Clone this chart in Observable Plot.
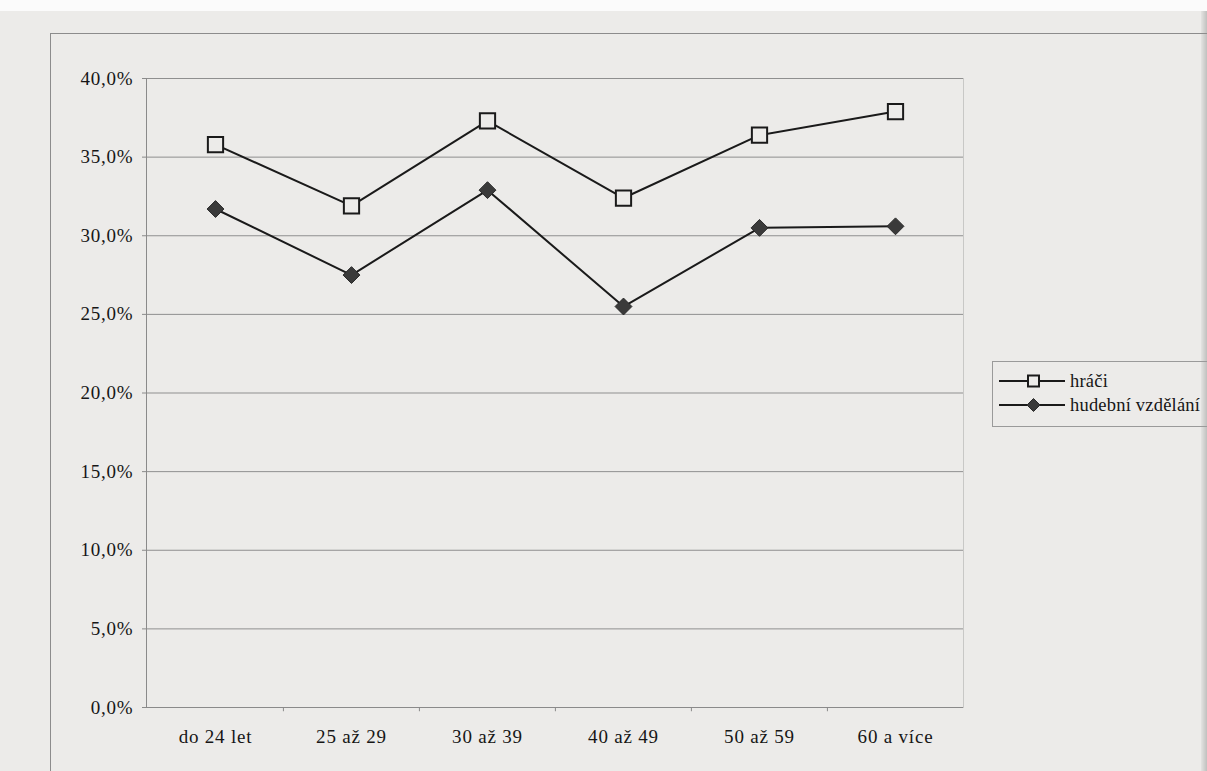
<!DOCTYPE html>
<html>
<head>
<meta charset="utf-8">
<script src="https://cdn.jsdelivr.net/npm/d3@7"></script>
<script src="https://cdn.jsdelivr.net/npm/@observablehq/plot@0.6"></script>
<style>
  html, body { margin: 0; padding: 0; }
  body { width: 1207px; height: 771px; overflow: hidden; background: #ecebe9; position: relative; font-family: "Liberation Serif", "Times New Roman", serif; }
  #topstrip { position: absolute; left: 0; top: 0; width: 1207px; height: 11px; background: #fbfbfb; }
  #frame { position: absolute; left: 50px; top: 33px; width: 1200px; height: 800px; border-left: 1px solid #8c8c8c; border-top: 1px solid #8c8c8c; }
  #edge { position: absolute; left: 1201px; top: 11px; width: 6px; height: 760px; background: linear-gradient(to right, #e4e4e2, #c0c0be); }
  #chart { position: absolute; left: 0; top: 0; }
  #legend { position: absolute; left: 992px; top: 361px; width: 240px; height: 66px; border: 1px solid #9a9a9a; box-sizing: border-box; }
  .item { position: absolute; left: 6px; height: 20px; display: flex; align-items: center; font-size: 18.5px; letter-spacing: 0.2px; color: #161616; white-space: nowrap; }
  .item svg { margin-right: 3px; }
</style>
</head>
<body>
<div id="topstrip"></div>
<div id="edge"></div>
<div id="frame"></div>
<div id="chart"></div>
<div id="legend"></div>
<script>
// ---- data ----
const categories = ["do 24 let", "25 až 29", "30 až 39", "40 až 49", "50 až 59", "60 a více"];
const seriesNames = ["hráči", "hudební vzdělání"];
const hraci = [35.8, 31.9, 37.3, 32.4, 36.4, 37.9];
const hudebniVzdelani = [31.7, 27.5, 32.9, 25.5, 30.5, 30.6];
const yTicks = [0, 5, 10, 15, 20, 25, 30, 35, 40];

const rows = [];
categories.forEach((c, i) => {
  rows.push({cat: c, series: seriesNames[0], value: hraci[i]});
  rows.push({cat: c, series: seriesNames[1], value: hudebniVzdelani[i]});
});
const rowsA = rows.filter(d => d.series === seriesNames[0]);
const rowsB = rows.filter(d => d.series === seriesNames[1]);

const W = 1207, H = 771;
const mL = 146, mR = 244, mT = 78, mB = 64;
const bandW = (W - mL - mR) / categories.length;
const fmt = d => d.toFixed(1).replace(".", ",") + "%";
const paper = "#ecebe9";

const chart = Plot.plot({
  width: W,
  height: H,
  marginLeft: mL,
  marginRight: mR,
  marginTop: mT,
  marginBottom: mB,
  style: {background: "transparent", fontFamily: "'Liberation Serif', 'Times New Roman', serif", fontSize: "19px", color: "#161616", letterSpacing: "0.8px", overflow: "visible"},
  x: {type: "band", domain: categories, paddingInner: 0, paddingOuter: 0, label: null},
  y: {domain: [0, 40], label: null},
  marks: [
    Plot.gridY(yTicks, {stroke: "#8f8f8f", strokeOpacity: 1, strokeWidth: 1}),
    Plot.frame({anchor: "right", stroke: "#c8c8c6"}),
    Plot.frame({anchor: "left", stroke: "#8a8a8a"}),
    Plot.ruleY([0], {stroke: "#8a8a8a"}),
    Plot.axisY(yTicks, {tickFormat: fmt, tickSize: 4, tickPadding: 9, stroke: "#8a8a8a", fill: "#161616", label: null}),
    Plot.axisX({tickSize: 0, tickPadding: 22, fill: "#161616", label: null}),
    Plot.ruleX(categories.slice(1), {x: d => d, y1: 0, y2: -0.27, dx: -bandW / 2, stroke: "#8a8a8a"}),
    Plot.line(rows, {x: "cat", y: "value", z: "series", stroke: "#1a1a1a", strokeWidth: 2}),
    Plot.dot(rowsA, {x: "cat", y: "value", symbol: "square", r: 8.6, fill: paper, stroke: "#1a1a1a", strokeWidth: 2}),
    Plot.dot(rowsB, {x: "cat", y: "value", symbol: "diamond2", r: 7.6, fill: "#3a3a3a", stroke: "#2a2a2a", strokeWidth: 1})
  ]
});
document.getElementById("chart").appendChild(chart);

// ---- legend ----
const legend = document.getElementById("legend");
const glyphs = [
  `<svg width="68" height="20"><line x1="0" y1="10" x2="66" y2="10" stroke="#1a1a1a" stroke-width="2"/><rect x="29" y="4.5" width="11" height="11" fill="${paper}" stroke="#1a1a1a" stroke-width="2"/></svg>`,
  `<svg width="68" height="20"><line x1="0" y1="10" x2="66" y2="10" stroke="#1a1a1a" stroke-width="2"/><path d="M34.5,3.5 L41,10 L34.5,16.5 L28,10 Z" fill="#3a3a3a" stroke="#2a2a2a" stroke-width="1"/></svg>`
];
seriesNames.forEach((name, i) => {
  const div = document.createElement("div");
  div.className = "item";
  div.style.top = (9 + i * 24) + "px";
  div.innerHTML = glyphs[i] + `<span>${name}</span>`;
  legend.appendChild(div);
});
</script>
</body>
</html>
